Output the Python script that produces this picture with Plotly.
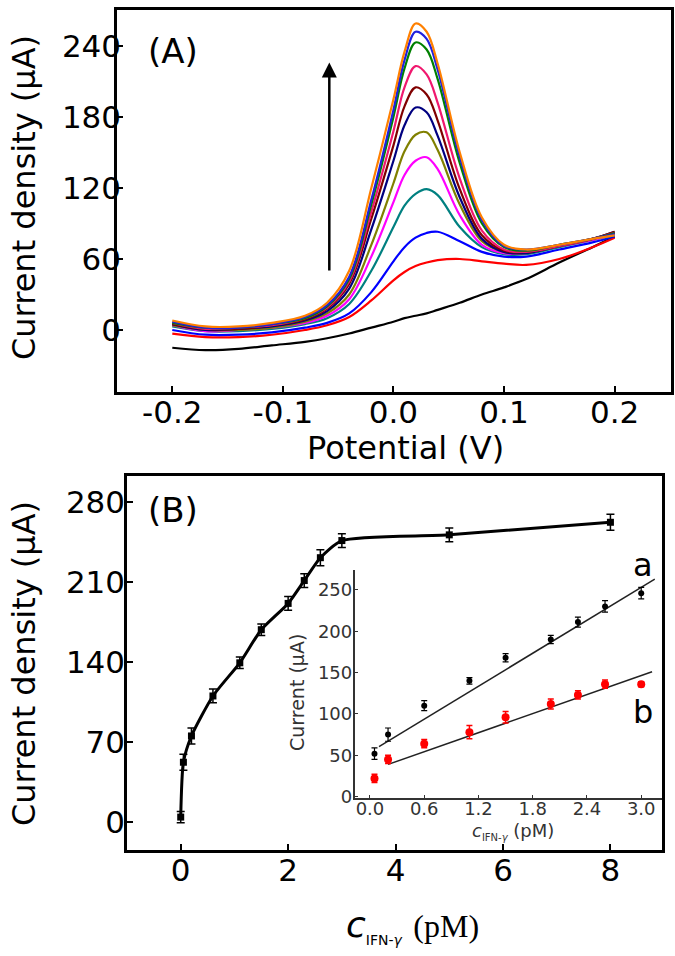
import plotly.graph_objects as go

# ---------------- Panel A data (DPV curves) ----------------
potential = [-0.2, -0.17, -0.14, -0.11, -0.08, -0.06, -0.04, -0.02, 0.0, 0.01,
             0.02, 0.03, 0.04, 0.06, 0.08, 0.1, 0.12, 0.15, 0.18, 0.2]

i_black   = [-15, -17, -16, -13, -10, -7, -3, 2, 7, 10, 12, 14, 17, 23, 30, 36, 43, 57, 70, 79]
i_red     = [-3, -6, -6, -4, 0, 4, 11, 25, 42, 49, 54, 57, 59, 60, 58, 56, 55, 60, 70, 78]
i_blue    = [0, -4, -4, -2, 2, 6, 14, 32, 58, 70, 78, 82, 83, 75, 66, 62, 62, 68, 74, 79]
i_teal    = [3, -1, -1, 1, 5, 10, 22, 50, 87, 105, 115, 119, 114, 87, 70, 64, 64, 70, 76, 80]
i_magenta = [4, -1, 0, 2, 6, 12, 26, 62, 108, 131, 143, 146, 136, 97, 72, 65, 65, 71, 76, 81]
i_olive   = [4, 0, 0, 2, 7, 14, 30, 72, 124, 151, 165, 167, 152, 106, 75, 66, 65, 71, 77, 82]
i_navy    = [5, 0, 1, 3, 8, 16, 35, 85, 143, 173, 188, 184, 164, 112, 77, 66, 65, 71, 77, 83]
i_maroon  = [5, 1, 1, 4, 9, 18, 39, 94, 156, 189, 205, 199, 177, 119, 80, 67, 66, 71, 77, 83]
i_pink    = [6, 1, 2, 4, 10, 19, 41, 100, 168, 205, 223, 216, 192, 128, 84, 68, 66, 71, 77, 82]
i_green   = [6, 2, 2, 5, 10, 20, 43, 106, 180, 221, 243, 237, 212, 141, 90, 70, 67, 72, 77, 82]
i_royal   = [7, 2, 2, 5, 11, 21, 45, 110, 186, 228, 252, 246, 220, 146, 93, 71, 68, 72, 77, 81]
i_orange  = [8, 3, 3, 6, 12, 23, 50, 120, 195, 235, 259, 252, 225, 150, 95, 72, 68, 72, 77, 80]

curve_colors = ["#000000", "#FF0000", "#0000FF", "#008080", "#FF00FF", "#808000",
                "#000080", "#800000", "#F0186E", "#008000", "#2020DD", "#FF8000"]

a_xticks = [-0.2, -0.1, 0.0, 0.1, 0.2]
a_xticktext = ["-0.2", "-0.1", "0.0", "0.1", "0.2"]
a_yticks = [0, 60, 120, 180, 240]

# ---------------- Panel B data (calibration) ----------------
conc = [0, 0.05, 0.2, 0.6, 1.1, 1.5, 2.0, 2.3, 2.6, 3.0, 5.0, 8.0]
resp = [4, 52, 75, 110, 139, 168, 191, 211, 231, 246, 251, 262]
resp_err = [5, 7, 7, 6, 5, 5, 6, 6, 7, 6, 6, 7]

b_xticks = [0, 2, 4, 6, 8]
b_yticks = [0, 70, 140, 210, 280]

# inset
ins_conc = [0.05, 0.2, 0.6, 1.1, 1.5, 2.0, 2.3, 2.6, 3.0]
ins_a = [52, 75, 110, 140, 168, 190, 211, 230, 246]
ins_a_err = [7, 8, 6, 4, 5, 5, 6, 7, 7]
ins_b = [22, 45, 64, 78, 96, 112, 123, 136, 136]
ins_b_err = [5, 5, 5, 8, 7, 6, 5, 5, 3]
fit_a_x = [0.1, 3.15]
fit_a_y = [60.5, 263]
fit_b_x = [0.2, 3.12]
fit_b_y = [39, 151]

ins_xticks = [0.0, 0.6, 1.2, 1.8, 2.4, 3.0]
ins_xticktext = ["0.0", "0.6", "1.2", "1.8", "2.4", "3.0"]
ins_yticks = [0, 50, 100, 150, 200, 250]

FONT = "DejaVu Sans"
W, H = 675, 956

fig = go.Figure()

series = [i_black, i_red, i_blue, i_teal, i_magenta, i_olive, i_navy,
          i_maroon, i_pink, i_green, i_royal, i_orange]
for ys, col in zip(series, curve_colors):
    fig.add_trace(go.Scatter(x=potential, y=ys, mode="lines",
                             line=dict(color=col, width=2.2, shape="spline", smoothing=1.0),
                             xaxis="x", yaxis="y", hoverinfo="skip"))

fig.add_trace(go.Scatter(x=conc, y=resp, mode="lines+markers",
                         line=dict(color="black", width=3, shape="spline", smoothing=0.6),
                         marker=dict(symbol="square", size=7, color="black"),
                         error_y=dict(type="data", array=resp_err, color="black",
                                      thickness=1.5, width=4),
                         xaxis="x2", yaxis="y2"))

fig.add_trace(go.Scatter(x=fit_a_x, y=fit_a_y, mode="lines",
                         line=dict(color="#222222", width=1.5),
                         xaxis="x3", yaxis="y3"))
fig.add_trace(go.Scatter(x=fit_b_x, y=fit_b_y, mode="lines",
                         line=dict(color="#222222", width=1.5),
                         xaxis="x3", yaxis="y3"))
fig.add_trace(go.Scatter(x=ins_conc, y=ins_a, mode="markers",
                         marker=dict(symbol="circle", size=6, color="black"),
                         error_y=dict(type="data", array=ins_a_err, color="black",
                                      thickness=1.2, width=3),
                         xaxis="x3", yaxis="y3"))
fig.add_trace(go.Scatter(x=ins_conc, y=ins_b, mode="markers",
                         marker=dict(symbol="circle", size=8, color="#FF0000"),
                         error_y=dict(type="data", array=ins_b_err, color="#FF0000",
                                      thickness=1.5, width=3),
                         xaxis="x3", yaxis="y3"))


def px(x):
    return x / W


def py(y):
    return 1 - y / H


main_axis = dict(showline=True, linecolor="black", linewidth=2.5, mirror=True,
                 ticks="inside", ticklen=6, tickwidth=2, tickcolor="black",
                 showgrid=False, zeroline=False, automargin=False,
                 tickfont=dict(family=FONT, size=31, color="black"))
inset_axis = dict(showline=True, linecolor="#333333", linewidth=1.5, mirror=False,
                  ticks="inside", ticklen=4, tickcolor="#333333", automargin=False,
                  showgrid=False, zeroline=False,
                  tickfont=dict(family=FONT, size=18, color="#333333"))

fig.update_layout(
    width=W, height=H,
    margin=dict(l=0, r=0, t=0, b=0, pad=0, autoexpand=False),
    paper_bgcolor="white", plot_bgcolor="white",
    showlegend=False,
    xaxis=dict(main_axis, domain=[px(117), px(671)], anchor="y",
               range=[-0.25, 0.251], tickvals=a_xticks, ticktext=a_xticktext,
               ticklabelstandoff=-9),
    yaxis=dict(main_axis, domain=[py(392), py(10)], anchor="x",
               range=[-52.4, 270.4], tickvals=a_yticks, ticklabelstandoff=-13),
    xaxis2=dict(main_axis, domain=[px(127), px(662)], anchor="y2",
                range=[-1.0, 8.96], tickvals=b_xticks, ticklabelstandoff=-9),
    yaxis2=dict(main_axis, domain=[py(850), py(476)], anchor="x2",
                range=[-24.8, 302.5], tickvals=b_yticks, ticklabelstandoff=-7),
    xaxis3=dict(inset_axis, domain=[px(354.6), px(662)], anchor="y3",
                range=[-0.17, 3.23], tickvals=ins_xticks, ticktext=ins_xticktext,
                ticklabelstandoff=-7),
    yaxis3=dict(inset_axis, domain=[py(798.3), py(570)], anchor="x3",
                range=[-2, 274], tickvals=ins_yticks, ticklabelstandoff=-3),
)


def note(x, y, text, size, color="black", angle=0):
    return dict(x=px(x), y=py(y), xref="paper", yref="paper", text=text,
                textangle=angle, showarrow=False, xanchor="center", yanchor="middle",
                font=dict(family=FONT, size=size, color=color))


ann = [
    note(24, 198, "Current density (μA)", 32, angle=-90),
    note(405, 448, "Potential (V)", 32),
    note(24, 664, "Current density (μA)", 32, angle=-90),
    note(412, 926, "<i>c</i><sub><span style='font-size:14px'>IFN-<i>γ</i></span></sub>"
                   " <span style=\"font-family:'Liberation Serif';font-size:32px\">(pM)</span>", 36),
    note(173, 51, "(A)", 34),
    note(173, 510, "(B)", 34),
    note(297, 693, "Current (μA)", 19, color="#333333", angle=-90),
    note(513, 831, "<i>c</i><sub><span style='font-size:10px'>IFN-<i>γ</i></span></sub> (pM)",
         18, color="#333333"),
    note(643, 565, "a", 32),
    note(643, 712, "b", 32),
]
# arrow in panel A
ann.append(dict(x=-0.058, y=226, ax=-0.058, ay=49, xref="x", yref="y",
                axref="x", ayref="y", text="", showarrow=True,
                arrowhead=2, arrowsize=1.2, arrowwidth=2.5, arrowcolor="black"))

fig.update_layout(annotations=ann)

fig.write_html("out.html", config={"displayModeBar": False},
               post_script=["document.body.style.margin='0';"
                            "document.body.style.overflow='hidden';"])
